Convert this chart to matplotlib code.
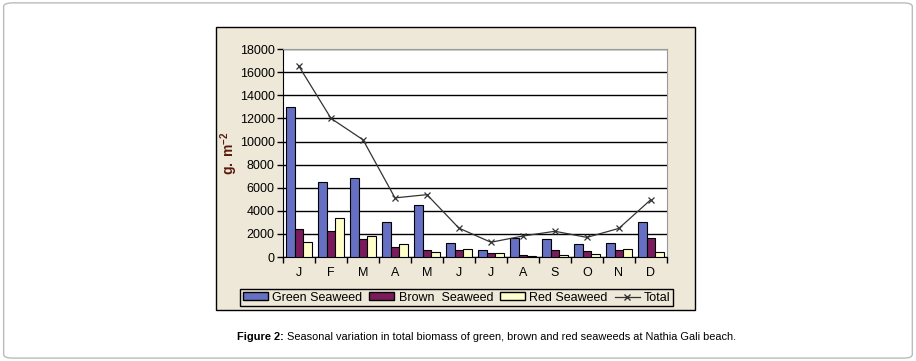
import numpy as np
import matplotlib.pyplot as plt
from matplotlib.patches import Rectangle, FancyBboxPatch, Patch
from matplotlib.lines import Line2D

plt.rcParams['font.family'] = ['Liberation Sans', 'DejaVu Sans']
plt.rcParams['mathtext.fontset'] = 'custom'
plt.rcParams['mathtext.bf'] = 'Liberation Sans:bold'
plt.rcParams['mathtext.rm'] = 'Liberation Sans'

months = ['J', 'F', 'M', 'A', 'M', 'J', 'J', 'A', 'S', 'O', 'N', 'D']
green = [13000, 6500, 6800, 3060, 4480, 1210, 600, 1620, 1590, 1160, 1210, 3000]
brown = [2400, 2230, 1590, 900, 580, 580, 350, 170, 610, 490, 580, 1620]
red = [1330, 3350, 1790, 1150, 440, 720, 375, 115, 145, 230, 720, 460]
total = [16500, 12000, 10150, 5120, 5400, 2500, 1280, 1820, 2230, 1700, 2480, 4970]

c_green = '#6670C2'
c_brown = '#7A1C5C'
c_red = '#FFFFCC'
beige = '#EEE8D8'

fig = plt.figure(figsize=(9.16, 3.61), dpi=100)

# outer rounded frame
fig.patches.append(FancyBboxPatch((0.004, 0.008), 0.992, 0.984, boxstyle='round,pad=0,rounding_size=0.01',
                                  transform=fig.transFigure, facecolor='white', edgecolor='#BBBBBB',
                                  linewidth=1, zorder=-3))
# beige chart panel
fig.patches.append(Rectangle((0.236, 0.141), 0.523, 0.784, transform=fig.transFigure,
                             facecolor=beige, edgecolor='black', linewidth=1, zorder=-2))

ax = fig.add_axes([0.309, 0.288, 0.419, 0.576])
ax.set_facecolor('white')

x = np.arange(len(months))
w = 0.27
ax.bar(x - w, green, w, color=c_green, edgecolor='black', linewidth=0.8, zorder=3)
ax.bar(x, brown, w, color=c_brown, edgecolor='black', linewidth=0.8, zorder=3)
ax.bar(x + w, red, w, color=c_red, edgecolor='black', linewidth=0.8, zorder=3)
ax.plot(x, total, color='#333333', linewidth=0.9, marker='x', markersize=4,
        markeredgewidth=0.9, zorder=4)

ax.set_xlim(-0.5, 11.5)
ax.set_ylim(0, 18000)
ax.set_yticks(np.arange(0, 18001, 2000))
ax.yaxis.grid(True, color='black', linewidth=1, zorder=0)
ax.set_axisbelow(True)

ax.set_xticks(np.arange(-0.5, 12, 1))
ax.set_xticklabels([])
ax.set_xticks(x, minor=True)
ax.set_xticklabels(months, minor=True)
ax.tick_params(axis='x', which='major', length=4, width=1, direction='out')
ax.tick_params(axis='x', which='minor', length=0, pad=7, labelsize=9)
ax.tick_params(axis='y', length=4, width=1, labelsize=9, pad=2)

for s in ['top', 'right']:
    ax.spines[s].set_color('#999999')
ax.spines['left'].set_color('black')
ax.spines['bottom'].set_color('black')

ax.set_ylabel(r'$\mathbf{g.\:m^{-2}}$', fontsize=10, color='#5A1A10', labelpad=0)

handles = [Patch(facecolor=c_green, edgecolor='black', label='Green Seaweed'),
           Patch(facecolor=c_brown, edgecolor='black', label='Brown  Seaweed'),
           Patch(facecolor=c_red, edgecolor='black', label='Red Seaweed'),
           Line2D([], [], color='#333333', marker='x', markersize=4, linewidth=0.9, label='Total')]
fig.legend(handles=handles, loc='center', bbox_to_anchor=(0.4985, 0.175), ncol=4, fontsize=9,
           frameon=True, fancybox=False, edgecolor='black', facecolor=beige, framealpha=1,
           handlelength=2.0, handleheight=0.6, handletextpad=0.35, columnspacing=0.55,
           borderpad=0.2, borderaxespad=0)

t1 = fig.text(0.259, 0.066, 'Figure 2:', fontsize=7.9, fontweight='bold', va='center', ha='left')
ax.annotate(' Seasonal variation in total biomass of green, brown and red seaweeds at Nathia Gali beach.',
            xy=(1, 0.5), xycoords=t1, va='center', ha='left', fontsize=7.9, annotation_clip=False)

fig.savefig('out.png', dpi=100)
